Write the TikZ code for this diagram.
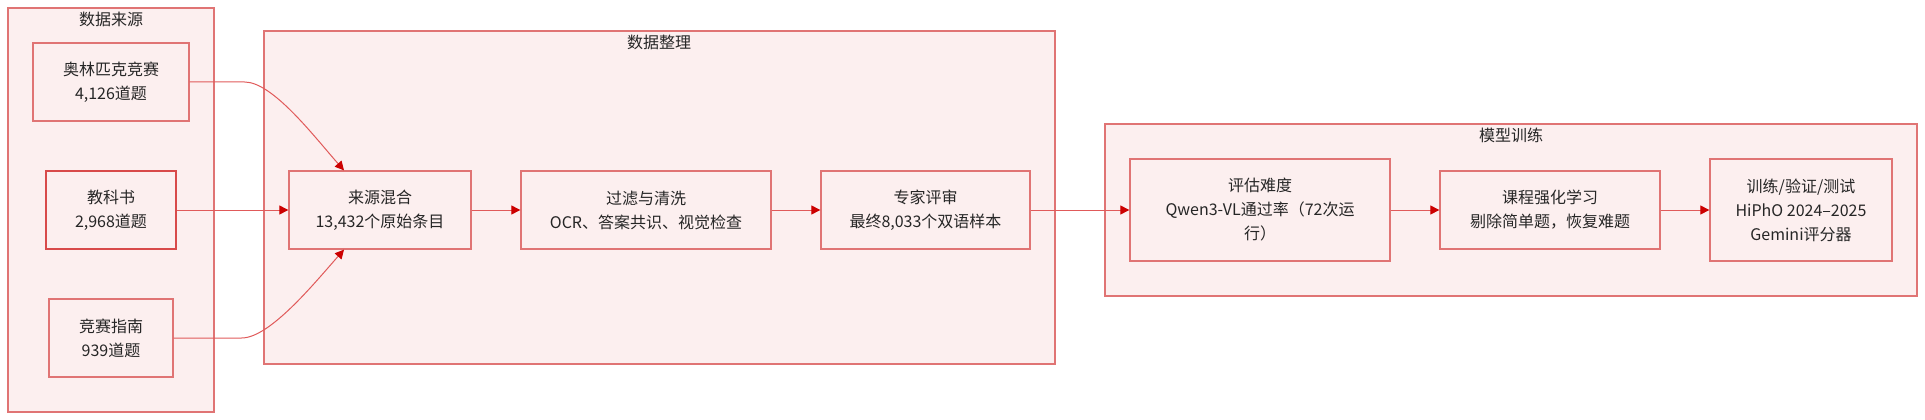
\documentclass[tikz,border=0pt]{standalone}
\usepackage{fontspec}
\setmainfont{Noto Sans CJK SC}
\usetikzlibrary{arrows.meta,calc}
\definecolor{boxfill}{HTML}{FCEFEF}
\definecolor{boxdraw}{HTML}{E07474}
\definecolor{hidraw}{HTML}{D84A4A}
\definecolor{edgecol}{HTML}{E05A5A}
\definecolor{tipcol}{HTML}{CC0000}
\tikzset{
  cluster/.style={draw=boxdraw, fill=boxfill, line width=1.3pt},
  ctitle/.style={inner sep=0pt, font=\fontsize{16}{24}\selectfont, text=black!85},
  proc/.style={draw=boxdraw, fill=boxfill, line width=1.3pt, inner sep=0pt,
    align=center, font=\fontsize{16}{24}\selectfont, text=black!85},
  flow/.style={draw=edgecol, line width=1pt,
    -{Triangle[length=9pt,width=9pt,color=tipcol]}}
}
\begin{document}
\begin{tikzpicture}[x=1pt,y=-1pt]
\useasboundingbox (0,0) rectangle (1925,420);
% clusters
\draw[cluster] (8,8) rectangle (214,412);
\node[ctitle] (t1) at (111,19) {数据来源};
\draw[cluster] (264,31) rectangle (1055,364);
\node[ctitle] (t2) at (659,42) {数据整理};
\draw[cluster] (1105,124) rectangle (1917,296);
\node[ctitle] (t3) at (1511,135) {模型训练};
% nodes
\node[proc, minimum width=156pt, minimum height=78pt] (ol) at (111,82) {奥林匹克竞赛\\4,126道题};
\node[proc, draw=hidraw, line width=1.1pt, minimum width=130pt, minimum height=78pt] (tb) at (111,210) {教科书\\2,968道题};
\node[proc, minimum width=124pt, minimum height=78pt] (gd) at (111,338) {竞赛指南\\939道题};
\node[proc, minimum width=182pt, minimum height=78pt] (mix) at (380,210) {来源混合\\13,432个原始条目};
\node[proc, minimum width=250pt, minimum height=78pt] (flt) at (646,210) {过滤与清洗\\OCR、答案共识、视觉检查};
\node[proc, minimum width=209pt, minimum height=78pt] (exp) at (925.5,210) {专家评审\\最终8,033个双语样本};
\node[proc, minimum width=260pt, minimum height=102pt] (ev) at (1260,210) {评估难度\\Qwen3-VL通过率（72次运\\行）};
\node[proc, minimum width=220pt, minimum height=78pt] (cu) at (1550,210) {课程强化学习\\剔除简单题，恢复难题};
\node[proc, minimum width=182pt, minimum height=102pt] (tr) at (1801,210) {训练/验证/测试\\HiPhO 2024–2025\\Gemini评分器};
% connectors
\coordinate (mixtop) at ([xshift=-36pt]mix.north);
\coordinate (mixbot) at ([xshift=-36pt]mix.south);
\draw[flow] (ol.east) -- ++(55,0) .. controls +(28,0) and ($(mixtop)+(-30,-34)$) .. (mixtop);
\draw[flow] (tb.east) -- (mix.west);
\draw[flow] (gd.east) -- ++(68,0) .. controls +(28,0) and ($(mixbot)+(-30,34)$) .. (mixbot);
\draw[flow] (mix.east) -- (flt.west);
\draw[flow] (flt.east) -- (exp.west);
\draw[flow] (exp.east) -- (ev.west);
\draw[flow] (ev.east) -- (cu.west);
\draw[flow] (cu.east) -- (tr.west);
\end{tikzpicture}
\end{document}
